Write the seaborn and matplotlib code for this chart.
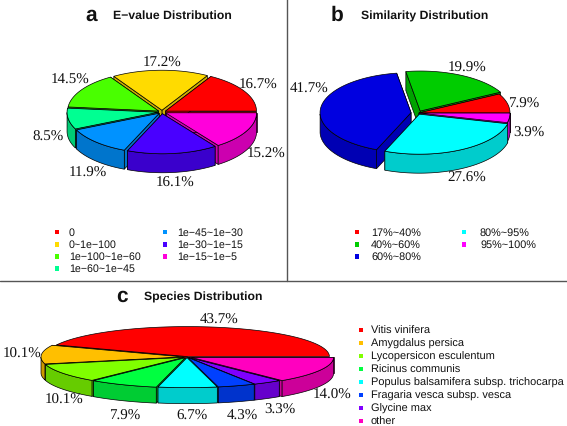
"""Three exploded 3D pies: E-value, similarity and species distribution."""

import matplotlib.pyplot as plt
import numpy as np
import pandas as pd
import seaborn as sns
from matplotlib.colors import to_rgb

evalue_names = ["0", "0~1e\u2212100", "1e\u2212100~1e\u221260", "1e\u221260~1e\u221245",
                "1e\u221245~1e\u221230", "1e\u221230~1e\u221215", "1e\u221215~1e\u22125"]
evalue_pct = [16.7, 17.2, 14.5, 8.5, 11.9, 16.1, 15.2]
evalue_colors = ["#ff0000", "#ffdb00", "#49ff00", "#00ff92", "#0092ff", "#4900ff", "#ff00db"]

similarity_names = ["17%~40%", "40%~60%", "60%~80%", "80%~95%", "95%~100%"]
similarity_pct = [7.9, 19.9, 41.7, 27.6, 3.9]
similarity_colors = ["#ff0000", "#00cc00", "#0000e0", "#00ffff", "#ff00ff"]

species_names = ["Vitis vinifera", "Amygdalus persica", "Lycopersicon esculentum",
                 "Ricinus communis", "Populus balsamifera subsp. trichocarpa",
                 "Fragaria vesca subsp. vesca", "Glycine max", "other"]
species_pct = [43.7, 10.1, 10.1, 7.9, 6.7, 4.3, 3.3, 14.0]
species_colors = ["#ff0000", "#ffbf00", "#80ff00", "#00ff40", "#00ffff", "#0040ff", "#8000ff", "#ff00bf"]

sns.set_theme(style="white")
plt.rcParams["font.family"] = "Liberation Sans"
plt.rcParams["text.hinting"] = "none"
SERIF = "Liberation Serif"


def draw_pie(ax, pct, colors, center, rx, ry, depth, explode):
    """Draw one pie as polygons, back slices first, so the front ones cover them."""
    cx, cy = center
    edges = np.cumsum([0] + list(pct)) / sum(pct) * 2 * np.pi
    order = sorted(range(len(pct)), key=lambda i: -np.sin((edges[i] + edges[i + 1]) / 2))
    for i in order:
        mid = (edges[i] + edges[i + 1]) / 2
        tx = cx + explode[i] * np.cos(mid)
        ty = cy - explode[i] * np.sin(mid) * ry / rx
        t = np.linspace(edges[i], edges[i + 1], 80)
        ax_x = tx + rx * np.cos(t)
        ax_y = ty - ry * np.sin(t)
        side = tuple(0.8 * c for c in to_rgb(colors[i]))
        # radial walls
        for k in (0, -1):
            ax.fill([tx, ax_x[k], ax_x[k], tx], [ty, ax_y[k], ax_y[k] + depth, ty + depth],
                    fc=side, ec="black", lw=0.5)
        # outer wall, only the part facing us
        front = np.sin(t) < 0
        if front.any():
            fx, fy = ax_x[front], ax_y[front]
            ax.fill(np.r_[fx, fx[::-1]], np.r_[fy, fy[::-1] + depth], fc=side, ec="black", lw=0.5)
        ax.fill(np.r_[tx, ax_x], np.r_[ty, ax_y], fc=colors[i], ec="black", lw=0.5)


def draw_legend(ax, names, colors, marker_x, text_x, y0, step, per_col, fontsize):
    rows = []
    for i, name in enumerate(names):
        col = i // per_col
        rows.append({"x": marker_x[col], "y": y0 + step * (i % per_col), "name": name})
        ax.text(text_x[col], rows[-1]["y"], name, fontsize=fontsize, va="center", color="#111111")
    df = pd.DataFrame(rows)
    sns.scatterplot(data=df, x="x", y="y", hue="name", palette=colors, marker="s", s=12,
                    linewidth=0, legend=False, ax=ax)


def put_labels(ax, pct, places):
    for value, (x, y) in zip(pct, places):
        ax.text(x, y, f"{value:.1f}%", family=SERIF, fontsize=10.8, ha="center", va="center", color="#111111")


def put_title(ax, letter, letter_x, title, title_x, y):
    ax.text(letter_x, y - 1, letter, fontsize=15, fontweight="bold", ha="center", va="center", color="#111111")
    ax.text(title_x, y, title, fontsize=8.8, fontweight="bold", ha="center", va="center", color="#111111")


fig = plt.figure(figsize=(5.67, 4.27), dpi=100)
ax = fig.add_axes([0, 0, 1, 1])

draw_pie(ax, evalue_pct, evalue_colors, (162, 113), 91, 40, 19, [4, 4, 4, 4, 4, 4, 4])
put_labels(ax, evalue_pct, [(258, 85), (162, 63), (70, 80), (48, 137), (88, 173), (175, 183), (266, 154)])
put_title(ax, "a", 91, "E\u2212value Distribution", 172, 16)
draw_legend(ax, evalue_names, evalue_colors, (57, 165), (69, 177), 233, 12.1, 4, 7.7)

draw_pie(ax, similarity_pct, similarity_colors, (418, 114), 91, 40, 19, [1, 5, 7, 3, 1])
put_labels(ax, similarity_pct, [(524, 104), (467, 68), (309, 89), (467, 178), (529, 133)])
put_title(ax, "b", 337, "Similarity Distribution", 425, 16)
draw_legend(ax, similarity_names, similarity_colors, (357, 464), (371, 480), 233, 12.1, 3, 7.8)

draw_pie(ax, species_pct, species_colors, (187, 358), 142, 30, 16, [2, 4, 4, 4, 3, 3, 3, 5])
put_labels(ax, species_pct, [(219, 320), (22, 354), (64, 400), (125, 416), (192, 416), (242, 416), (280, 410), (332, 395)])
put_title(ax, "c", 122, "Species Distribution", 203, 297)
draw_legend(ax, species_names, species_colors, (361,), (371,), 331, 13, 8, 7.9)

# panel dividers
ax.plot([287, 287], [0, 282], color="#555555", lw=1)
ax.plot([0, 567], [282, 282], color="#555555", lw=1)

ax.set_xlim(0, 567)
ax.set_ylim(427, 0)
ax.axis("off")
fig.savefig("out.png", dpi=100)
